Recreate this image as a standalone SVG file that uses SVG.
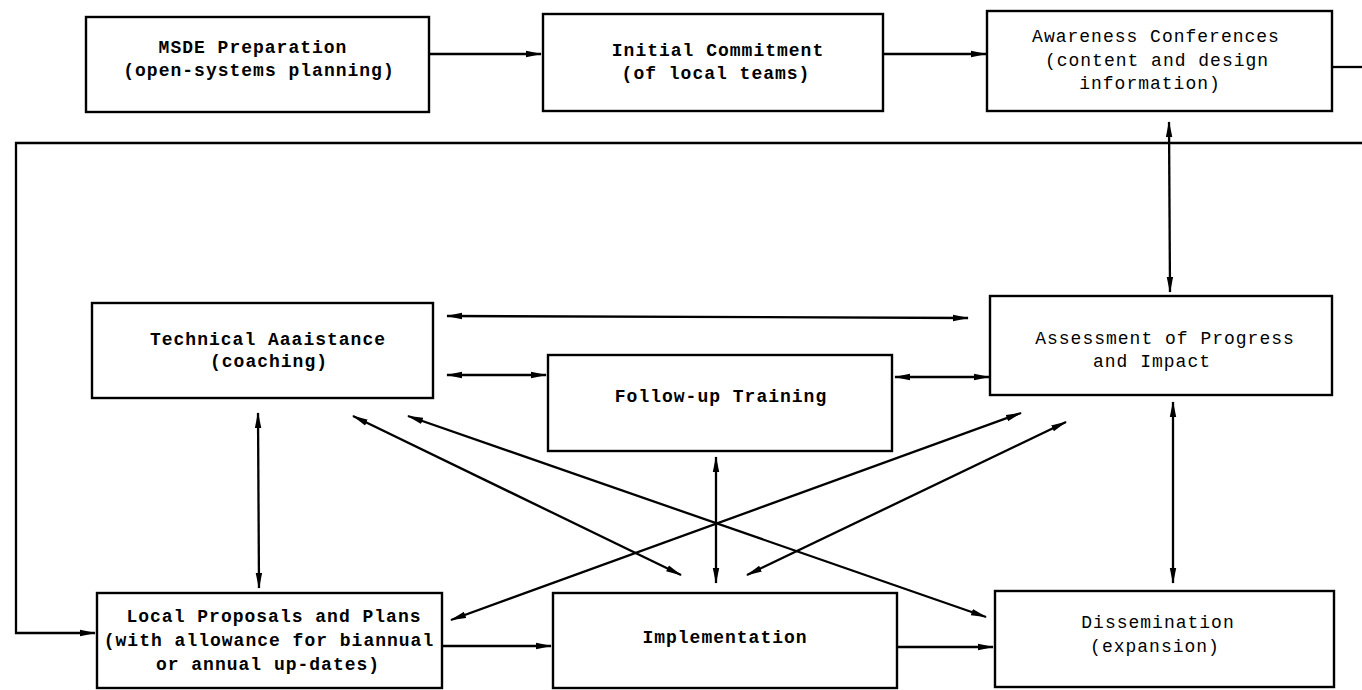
<svg xmlns="http://www.w3.org/2000/svg" width="1362" height="690" viewBox="0 0 1362 690">
<style>
.box{fill:#fff;stroke:#000;stroke-width:2.4}
.t{font-family:"Liberation Mono","DejaVu Sans Mono",monospace;font-size:18px;letter-spacing:1px;text-anchor:middle;fill:#000}
.b{font-weight:bold}
.c{fill:none;stroke:#000;stroke-width:2.3}
</style>
<defs>
<marker id="ah" markerUnits="userSpaceOnUse" markerWidth="16" markerHeight="8" refX="15" refY="4" orient="auto-start-reverse">
<path d="M0,0.8 L16,4 L0,7.2 z" fill="#000"/>
</marker>
</defs>
<rect width="1362" height="690" fill="#fff"/>
<g id="connectors">
<line class="c" x1="429" y1="54" x2="541" y2="54" marker-end="url(#ah)"/>
<line class="c" x1="883" y1="54" x2="986" y2="54" marker-end="url(#ah)"/>
<line class="c" x1="1332" y1="67" x2="1362" y2="67"/>
<polyline class="c" points="1362,143 16,143 16,633 95,633" marker-end="url(#ah)"/>
<line class="c" x1="1169" y1="122" x2="1170" y2="292" marker-start="url(#ah)" marker-end="url(#ah)"/>
<line class="c" x1="447" y1="316" x2="968" y2="318" marker-start="url(#ah)" marker-end="url(#ah)"/>
<line class="c" x1="447" y1="375" x2="546" y2="375" marker-start="url(#ah)" marker-end="url(#ah)"/>
<line class="c" x1="895" y1="377" x2="989" y2="377" marker-start="url(#ah)" marker-end="url(#ah)"/>
<line class="c" x1="258" y1="413" x2="259" y2="588" marker-start="url(#ah)" marker-end="url(#ah)"/>
<line class="c" x1="716" y1="457" x2="716" y2="583" marker-start="url(#ah)" marker-end="url(#ah)"/>
<line class="c" x1="1173" y1="402" x2="1173" y2="583" marker-start="url(#ah)" marker-end="url(#ah)"/>
<line class="c" x1="353" y1="416" x2="681" y2="575" marker-start="url(#ah)" marker-end="url(#ah)"/>
<line class="c" x1="408" y1="416" x2="986" y2="617" marker-start="url(#ah)" marker-end="url(#ah)"/>
<line class="c" x1="451" y1="620" x2="1021" y2="413" marker-start="url(#ah)" marker-end="url(#ah)"/>
<line class="c" x1="747" y1="575" x2="1066" y2="422" marker-start="url(#ah)" marker-end="url(#ah)"/>
<line class="c" x1="442" y1="646" x2="551" y2="646" marker-end="url(#ah)"/>
<line class="c" x1="897" y1="647" x2="993" y2="647" marker-end="url(#ah)"/>
</g>
<g id="msde">
<rect class="box" x="86" y="17" width="343" height="95"/>
<text class="t b" x="253" y="53">MSDE Preparation</text>
<text class="t b" x="259" y="76">(open-systems planning)</text>
</g>
<g id="initial">
<rect class="box" x="543" y="14" width="340" height="97"/>
<text class="t b" x="718" y="56">Initial Commitment</text>
<text class="t b" x="716" y="79">(of local teams)</text>
</g>
<g id="awareness">
<rect class="box" x="987" y="11" width="345" height="100"/>
<text class="t" x="1156" y="42">Awareness Conferences</text>
<text class="t" x="1157" y="66">(content and design</text>
<text class="t" x="1150" y="89">information)</text>
</g>
<g id="technical">
<rect class="box" x="92" y="303" width="341" height="95"/>
<text class="t b" x="268" y="345">Technical Aaaistance</text>
<text class="t b" x="269" y="367">(coaching)</text>
</g>
<g id="followup">
<rect class="box" x="548" y="355" width="344" height="96"/>
<text class="t b" x="721" y="402">Follow-up Training</text>
</g>
<g id="assessment">
<rect class="box" x="990" y="296" width="342" height="99"/>
<text class="t" x="1165" y="344">Assessment of Progress</text>
<text class="t" x="1152" y="367">and Impact</text>
</g>
<g id="local">
<rect class="box" x="97" y="593" width="345" height="95"/>
<text class="t b" x="274" y="622">Local Proposals and Plans</text>
<text class="t b" x="269" y="646">(with allowance for biannual</text>
<text class="t b" x="268" y="670">or annual up-dates)</text>
</g>
<g id="implementation">
<rect class="box" x="553" y="593" width="344" height="95"/>
<text class="t b" x="725" y="643">Implementation</text>
</g>
<g id="dissemination">
<rect class="box" x="995" y="591" width="339" height="96"/>
<text class="t" x="1158" y="628">Dissemination</text>
<text class="t" x="1155" y="652">(expansion)</text>
</g>
</svg>
